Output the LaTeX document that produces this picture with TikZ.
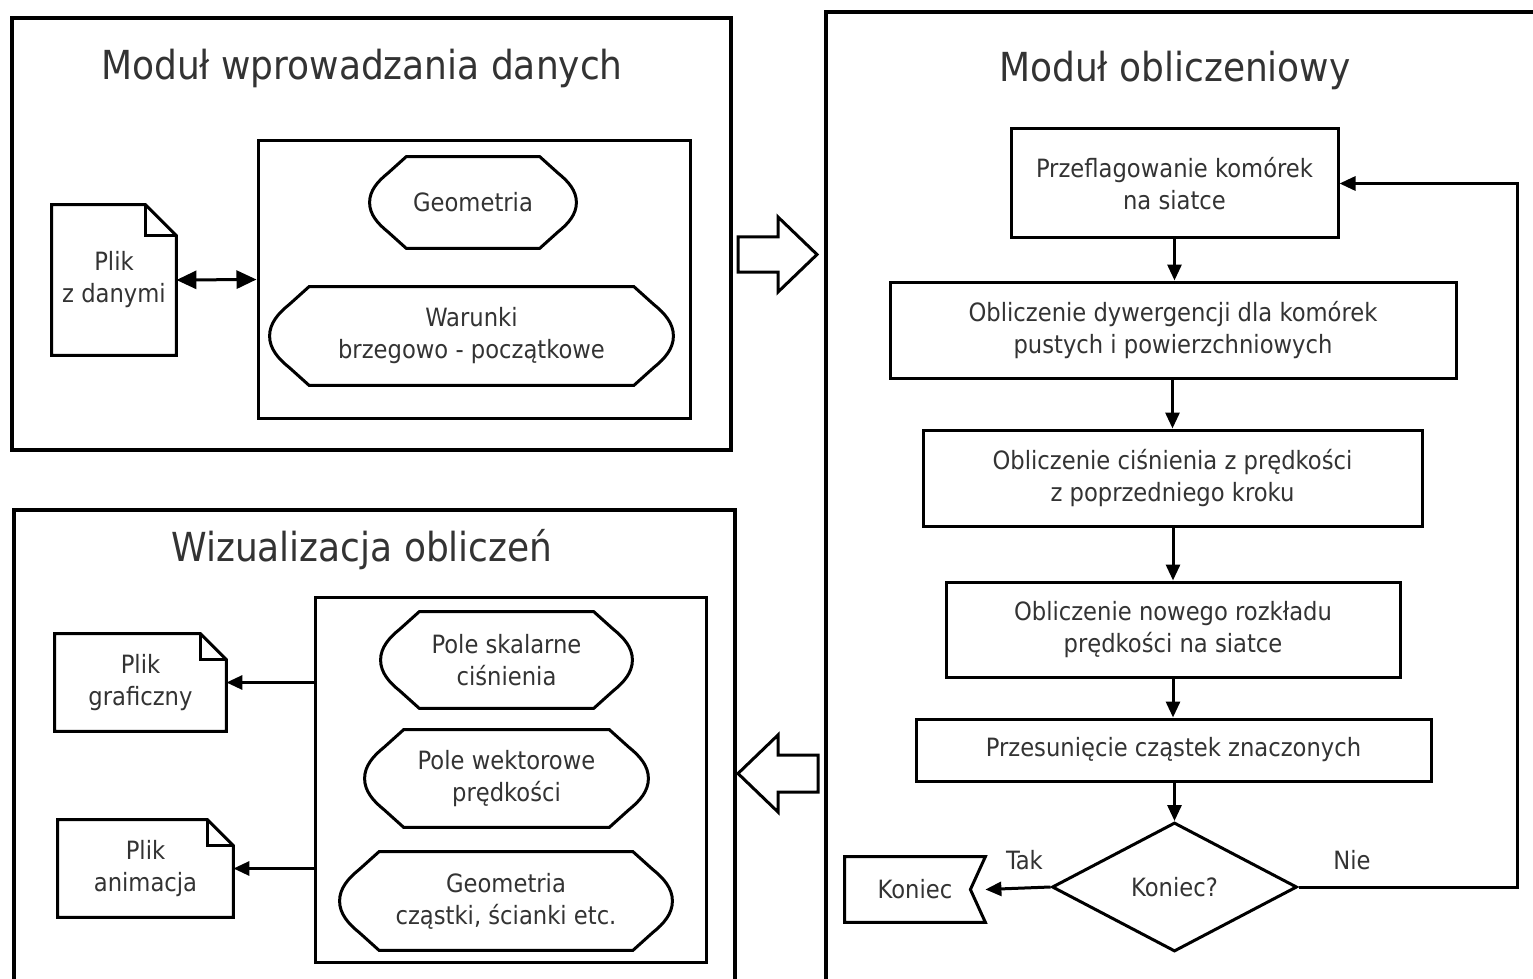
\documentclass[tikz,border=0pt]{standalone}
\usepackage{fontspec}
\setmainfont{DejaVu Sans Condensed}
\usetikzlibrary{arrows.meta,calc,shapes.geometric}

\tikzset{
  frame/.style={draw, line width=1.8pt},
  stepbox/.style={draw, line width=1.5pt, inner sep=0pt, align=center},
  hidden/.style={inner sep=0pt, align=center},
  flow/.style={line width=1.5pt, -{Triangle[length=8pt,width=7pt]}},
  title/.style={font=\fontsize{20}{22}\selectfont}
}

% outline of a "display" box round a hidden node
\newcommand\dispoutline[1]{%
  \draw[line width=1.5pt] let \p1=(#1.north west), \p2=(#1.south east), \p3=(#1.center),
    \n1={0.4*(\y1-\y2)}, \n2={\y1-\y2} in
    ({\x1+\n1},\y1) -- ({\x2-\n1},\y1) -- ({\x2-0.5*\n1},{\y1-0.18*\n2})
    .. controls ({\x2-0.22*\n1},{\y1-0.27*\n2}) and (\x2,{\y3+0.13*\n2}) .. (\x2,\y3)
    .. controls (\x2,{\y3-0.13*\n2}) and ({\x2-0.22*\n1},{\y2+0.27*\n2}) .. ({\x2-0.5*\n1},{\y2+0.18*\n2})
    -- ({\x2-\n1},\y2) -- ({\x1+\n1},\y2) -- ({\x1+0.5*\n1},{\y2+0.18*\n2})
    .. controls ({\x1+0.22*\n1},{\y2+0.27*\n2}) and (\x1,{\y3-0.13*\n2}) .. (\x1,\y3)
    .. controls (\x1,{\y3+0.13*\n2}) and ({\x1+0.22*\n1},{\y1-0.27*\n2}) .. ({\x1+0.5*\n1},{\y1-0.18*\n2})
    -- cycle;}

% outline of a file with a folded corner
\newcommand\fileoutline[2]{%
  \draw[line width=1.5pt] (#1.north west) -- ($(#1.north east)+(-#2,0)$) -- ($(#1.north east)+(0,#2)$)
    -- (#1.south east) -- (#1.south west) -- cycle;
  \draw[line width=1.2pt] ($(#1.north east)+(-#2,0)$) |- ($(#1.north east)+(0,#2)$);}

\begin{document}
\begin{tikzpicture}[x=0.5pt,y=-0.5pt,
  every node/.append style={text=black!80, font=\fontsize{12.6}{16}\selectfont}]
\clip (0,0) rectangle (1533,979);
\fill[white] (0,0) rectangle (1533,979);

% input module
\draw[frame] (12,18) rectangle (731,450);
\node[title] (tinput) at (362,68) {Moduł wprowadzania danych};
\node[hidden, minimum width=62pt, minimum height=75pt] (datafile) at (114,280) {Plik\\z danymi};
\fileoutline{datafile}{31}
\node[stepbox, minimum width=216pt, minimum height=138.5pt] (inbox) at (474,279.5) {};
\node[hidden, minimum width=103pt, minimum height=45.5pt] (geom) at (473,202.5) {Geometria};
\dispoutline{geom}
\node[hidden, minimum width=201.5pt, minimum height=49pt] (cond) at (471.5,336) {Warunki\\brzegowo - początkowe};
\dispoutline{cond}
\draw[line width=1.5pt, {Triangle[length=10pt,width=9pt]}-{Triangle[length=10pt,width=9pt]}] (datafile.east) -- (inbox.west);

% block arrows between modules
\draw[line width=1.5pt] (738,237) -- (778,237) -- (778,217) -- (817,254.5) -- (778,292) -- (778,272) -- (738,272) -- cycle;
\draw[line width=1.5pt] (818,755) -- (778,755) -- (778,735) -- (738,773.5) -- (778,812) -- (778,792) -- (818,792) -- cycle;

% computing module
\draw[frame] (826,12) rectangle (1600,1050);
\node[title] (tcomp) at (1175,70) {Moduł obliczeniowy};
\node[stepbox, minimum width=163.5pt, minimum height=54.5pt] (flag) at (1174.5,183.5) {Przeflagowanie komórek\\na siatce};
\node[stepbox, minimum width=283pt, minimum height=48pt] (div) at (1173,330) {Obliczenie dywergencji dla komórek\\pustych i powierzchniowych};
\node[stepbox, minimum width=249.5pt, minimum height=48pt] (press) at (1172.5,478) {Obliczenie ciśnienia z prędkości\\z poprzedniego kroku};
\node[stepbox, minimum width=227pt, minimum height=47.5pt] (vel) at (1173,629.5) {Obliczenie nowego rozkładu\\prędkości na siatce};
\node[stepbox, minimum width=257.5pt, minimum height=31pt] (move) at (1173.5,750) {Przesunięcie cząstek znaczonych};
\node[diamond, draw, line width=1.5pt, inner sep=0pt, minimum width=122.5pt, minimum height=64.5pt] (stop) at (1174.5,887) {Koniec?};
\node[hidden, minimum width=70pt, minimum height=32.5pt] (endbox) at (915,889.5) {Koniec};
\draw[line width=1.5pt] (endbox.north west) -- (endbox.north east) -- ($(endbox.east)+(-15,0)$)
  -- (endbox.south east) -- (endbox.south west) -- cycle;
\coordinate (loop) at (1517,183.5);

\draw[flow] (flag.south) -- (flag.south |- div.north);
\draw[flow] (press.north |- div.south) -- (press.north);
\draw[flow] (vel.north |- press.south) -- (vel.north);
\draw[flow] (vel.south) -- (vel.south |- move.north);
\draw[flow] (stop.north |- move.south) -- (stop.north);
\draw[flow] (stop.west) -- node[above, pos=0.4, yshift=5pt] {Tak} (endbox.east);
\draw[flow] (stop.east) -| (loop) -- (flag.east);
\node (no) at (1352,860) {Nie};

% visualisation module
\draw[frame] (14,510) rectangle (735,1050);
\node[title] (tvis) at (362,550) {Wizualizacja obliczeń};
\node[stepbox, minimum width=195.5pt, minimum height=182.5pt] (outbox) at (510.5,779.5) {};
\node[hidden, minimum width=125.5pt, minimum height=48pt] (scal) at (506.5,660) {Pole skalarne\\ciśnienia};
\dispoutline{scal}
\node[hidden, minimum width=141.5pt, minimum height=48.5pt] (vect) at (506.5,778.5) {Pole wektorowe\\prędkości};
\dispoutline{vect}
\node[hidden, minimum width=166pt, minimum height=49pt] (part) at (506,901) {Geometria\\cząstki, ścianki etc.};
\dispoutline{part}
\node[hidden, minimum width=85.5pt, minimum height=48.5pt] (imgfile) at (140.5,682.5) {Plik\\graficzny};
\fileoutline{imgfile}{26}
\node[hidden, minimum width=87.5pt, minimum height=48.5pt] (animfile) at (145.5,868.5) {Plik\\animacja};
\fileoutline{animfile}{26}
\draw[flow] (outbox.west |- imgfile.east) -- (imgfile.east);
\draw[flow] (outbox.west |- animfile.east) -- (animfile.east);
\end{tikzpicture}
\end{document}
